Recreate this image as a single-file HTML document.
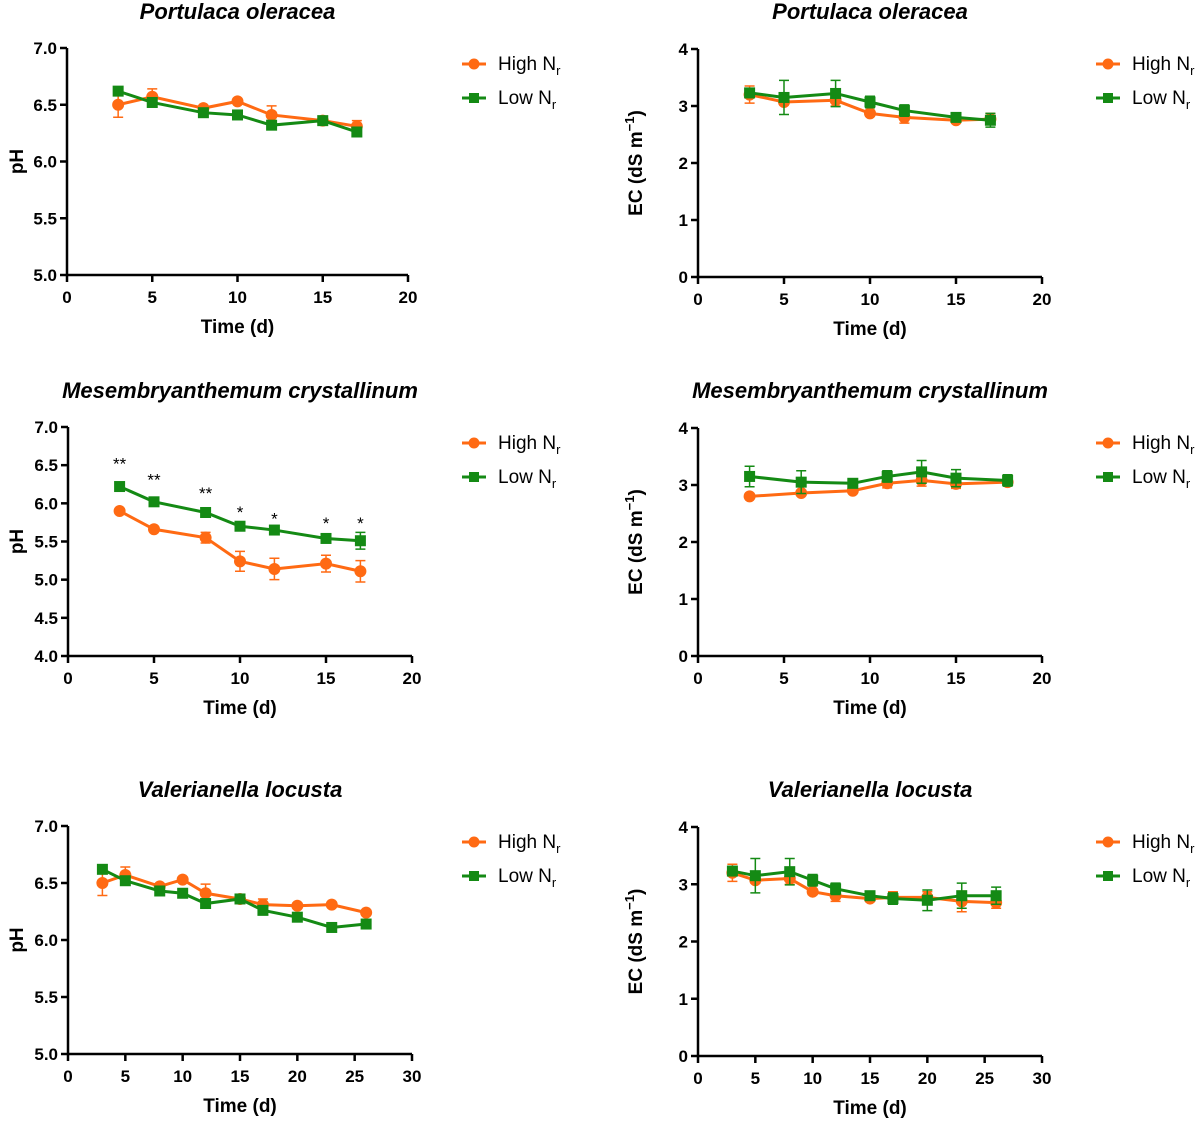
<!DOCTYPE html>
<html><head><meta charset="utf-8"><style>
body{margin:0;background:#fff}
svg{display:block;font-family:"Liberation Sans",Arial,sans-serif}
</style></head><body>
<svg id="c" width="1200" height="1125" viewBox="0 0 1200 1125"></svg>
<script>
const xP = [3,5,8,10,12,15,17];
const xM = [3,5,8,10,12,15,17];
const xMEC = [3,6,9,11,13,15,18];
const xV = [3,5,8,10,12,15,17,20,23,26];
const pHighPH = [6.5,6.57,6.47,6.53,6.41,6.36,6.31];
const pHighPHErr = [0.11,0.07,0.02,0.02,0.08,0.03,0.05];
const pLowPH = [6.62,6.52,6.43,6.41,6.32,6.36,6.26];
const pLowPHErr = [0.03,0.03,0.02,0.02,0.03,0.03,0.03];
const pHighEC = [3.2,3.07,3.1,2.87,2.8,2.75,2.77];
const pHighECErr = [0.15,0.05,0.1,0.05,0.1,0.05,0.1];
const pLowEC = [3.23,3.15,3.22,3.07,2.92,2.8,2.75];
const pLowECErr = [0.08,0.3,0.23,0.1,0.1,0.05,0.12];
const mHighPH = [5.9,5.66,5.55,5.24,5.14,5.21,5.11];
const mHighPHErr = [0.02,0.02,0.07,0.13,0.14,0.11,0.14];
const mLowPH = [6.22,6.02,5.88,5.7,5.65,5.54,5.51];
const mLowPHErr = [0.03,0.05,0.03,0.03,0.03,0.04,0.11];
const mStars = ["**","**","**","*","*","*","*"];
const mStarY = [6.55,6.34,6.16,5.91,5.83,5.77,5.77];
const mHighEC = [2.8,2.86,2.9,3.03,3.08,3.02,3.05];
const mHighECErr = [0.02,0.02,0.03,0.08,0.1,0.08,0.05];
const mLowEC = [3.15,3.05,3.03,3.15,3.23,3.12,3.08];
const mLowECErr = [0.18,0.2,0.08,0.1,0.2,0.15,0.1];
const vHighPH = [6.5,6.57,6.47,6.53,6.41,6.36,6.31,6.3,6.31,6.24];
const vHighPHErr = [0.11,0.07,0.02,0.02,0.08,0.03,0.05,0.02,0.02,0.02];
const vLowPH = [6.62,6.52,6.43,6.41,6.32,6.36,6.26,6.2,6.11,6.14];
const vLowPHErr = [0.03,0.03,0.02,0.02,0.03,0.03,0.03,0.02,0.02,0.02];
const vHighEC = [3.2,3.07,3.1,2.87,2.8,2.75,2.77,2.77,2.7,2.68];
const vHighECErr = [0.15,0.05,0.1,0.05,0.1,0.05,0.1,0.1,0.18,0.1];
const vLowEC = [3.23,3.15,3.22,3.07,2.92,2.8,2.75,2.72,2.8,2.8];
const vLowECErr = [0.08,0.3,0.23,0.1,0.1,0.05,0.1,0.18,0.22,0.15];
const xTicks20 = [0,5,10,15,20];
const xTicks30 = [0,5,10,15,20,25,30];
const pHTicks7 = [5.0,5.5,6.0,6.5,7.0];
const pHTicksM = [4.0,4.5,5.0,5.5,6.0,6.5,7.0];
const ecTicks = [0,1,2,3,4];

const OR="#ff6a13", GR="#148a14";
const svg=document.getElementById('c');
const NS="http://www.w3.org/2000/svg";
function el(tag,attrs,parent,text){const e=document.createElementNS(NS,tag);for(const k in attrs)e.setAttribute(k,attrs[k]);if(text!==undefined)e.textContent=text;(parent||svg).appendChild(e);return e;}

function panel(o){
  const g=el('g',{});
  
  
  const sx=v=>o.x0+(v-o.xmin)/(o.xmax-o.xmin)*(o.x1-o.x0);
  const sy=v=>o.y1-(v-o.ymin)/(o.ymax-o.ymin)*(o.y1-o.y0);
  const t=el('text',{x:(o.x0+o.x1)/2,y:o.titleY,'text-anchor':'middle','font-size':22,'font-weight':'bold','font-style':'italic'},g,o.title);
  
  
  const ax=el('g',{stroke:'#000','stroke-width':2.5,fill:'none'},g);
  
  
  el('line',{x1:o.x0,y1:o.y0,x2:o.x0,y2:o.y1},ax);
  el('line',{x1:o.x0,y1:o.y1,x2:o.x1,y2:o.y1},ax);
  o.xt.forEach(v=>{el('line',{x1:sx(v),y1:o.y1,x2:sx(v),y2:o.y1+7},ax);
    const l=el('text',{x:sx(v),y:o.y1+28,'text-anchor':'middle','font-size':17,'font-weight':'bold'},g,String(v));
    
    });
  o.yt.forEach(v=>{el('line',{x1:o.x0-7,y1:sy(v),x2:o.x0,y2:sy(v)},ax);
    const l=el('text',{x:o.x0-10,y:sy(v)+6,'text-anchor':'end','font-size':17,'font-weight':'bold'},g,o.dec?v.toFixed(1):String(v));
    
    });
  const xl=el('text',{x:(o.x0+o.x1)/2,y:o.y1+58,'text-anchor':'middle','font-size':19,'font-weight':'bold'},g,'Time (d)');
  
  
  const cy=(o.y0+o.y1)/2;
  const yl=el('text',{x:o.ylX,y:cy,'text-anchor':'middle','font-size':19,'font-weight':'bold',transform:`rotate(-90 ${o.ylX} ${cy})`},g);
  
  
  if(o.ec){yl.appendChild(document.createTextNode('EC (dS m'));el('tspan',{dy:-8,'font-size':13},yl,'−1');el('tspan',{dy:8},yl,')');}
  else yl.textContent='pH';
  o.series.forEach(s=>{
    const sg=el('g',{},g);
    
    
    s.y.forEach((v,i)=>{const X=sx(o.xs[i]),e=s.e[i];
      el('path',{d:`M${X} ${sy(v-e)}V${sy(v+e)}M${X-5} ${sy(v-e)}H${X+5}M${X-5} ${sy(v+e)}H${X+5}`,stroke:s.c,'stroke-width':1.5,fill:'none'},sg);});
    el('polyline',{points:s.y.map((v,i)=>sx(o.xs[i])+','+sy(v)).join(' '),fill:'none',stroke:s.c,'stroke-width':3},sg);
    s.y.forEach((v,i)=>{const X=sx(o.xs[i]),Y=sy(v);
      const m=s.sq?el('rect',{x:X-5.5,y:Y-5.5,width:11,height:11,fill:s.c},sg):el('circle',{cx:X,cy:Y,r:6,fill:s.c},sg);
      
      });
  });
  if(o.stars){o.stars.forEach((s,i)=>{const st=el('text',{x:sx(o.xs[i]),y:sy(mStarY[i])+8,'text-anchor':'middle','font-size':17},g,s);
    
    });}
  const lg=el('g',{},g);
  
  
  [['High',OR,false],['Low',GR,true]].forEach((d,i)=>{
    const Y=o.legY+i*34;
    const le=el('g',{},lg);
    
    
    el('line',{x1:o.legX,y1:Y,x2:o.legX+24,y2:Y,stroke:d[1],'stroke-width':3},le);
    if(d[2])el('rect',{x:o.legX+7,y:Y-5,width:10,height:10,fill:d[1]},le);else el('circle',{cx:o.legX+12,cy:Y,r:5.5,fill:d[1]},le);
    const tx=el('text',{x:o.legX+36,y:Y+6,'font-size':19},le,d[0]+' N');
    el('tspan',{dy:5,'font-size':13},tx,'r');
  });
}

panel({name:'portulaca-ph-panel',title:'Portulaca oleracea',titleY:19,x0:67,x1:408,y0:48,y1:275,xmin:0,xmax:20,ymin:5,ymax:7,xt:xTicks20,yt:pHTicks7,dec:true,ylX:23,xs:xP,legX:462,legY:64,
  series:[{name:'high-nr-series',y:pHighPH,e:pHighPHErr,c:OR},{name:'low-nr-series',y:pLowPH,e:pLowPHErr,c:GR,sq:true}]});
panel({name:'portulaca-ec-panel',title:'Portulaca oleracea',titleY:19,x0:698,x1:1042,y0:49,y1:277,xmin:0,xmax:20,ymin:0,ymax:4,xt:xTicks20,yt:ecTicks,ec:true,ylX:642,xs:xP,legX:1096,legY:64,
  series:[{name:'high-nr-series',y:pHighEC,e:pHighECErr,c:OR},{name:'low-nr-series',y:pLowEC,e:pLowECErr,c:GR,sq:true}]});
panel({name:'mesembryanthemum-ph-panel',title:'Mesembryanthemum crystallinum',titleY:398,x0:68,x1:412,y0:427,y1:656,xmin:0,xmax:20,ymin:4,ymax:7,xt:xTicks20,yt:pHTicksM,dec:true,ylX:23,xs:xM,legX:462,legY:443,stars:mStars,
  series:[{name:'high-nr-series',y:mHighPH,e:mHighPHErr,c:OR},{name:'low-nr-series',y:mLowPH,e:mLowPHErr,c:GR,sq:true}]});
panel({name:'mesembryanthemum-ec-panel',title:'Mesembryanthemum crystallinum',titleY:398,x0:698,x1:1042,y0:428,y1:656,xmin:0,xmax:20,ymin:0,ymax:4,xt:xTicks20,yt:ecTicks,ec:true,ylX:642,xs:xMEC,legX:1096,legY:443,
  series:[{name:'high-nr-series',y:mHighEC,e:mHighECErr,c:OR},{name:'low-nr-series',y:mLowEC,e:mLowECErr,c:GR,sq:true}]});
panel({name:'valerianella-ph-panel',title:'Valerianella locusta',titleY:797,x0:68,x1:412,y0:826,y1:1054,xmin:0,xmax:30,ymin:5,ymax:7,xt:xTicks30,yt:pHTicks7,dec:true,ylX:23,xs:xV,legX:462,legY:842,
  series:[{name:'high-nr-series',y:vHighPH,e:vHighPHErr,c:OR},{name:'low-nr-series',y:vLowPH,e:vLowPHErr,c:GR,sq:true}]});
panel({name:'valerianella-ec-panel',title:'Valerianella locusta',titleY:797,x0:698,x1:1042,y0:827,y1:1056,xmin:0,xmax:30,ymin:0,ymax:4,xt:xTicks30,yt:ecTicks,ec:true,ylX:642,xs:xV,legX:1096,legY:842,
  series:[{name:'high-nr-series',y:vHighEC,e:vHighECErr,c:OR},{name:'low-nr-series',y:vLowEC,e:vLowECErr,c:GR,sq:true}]});
</script>
</body></html>
